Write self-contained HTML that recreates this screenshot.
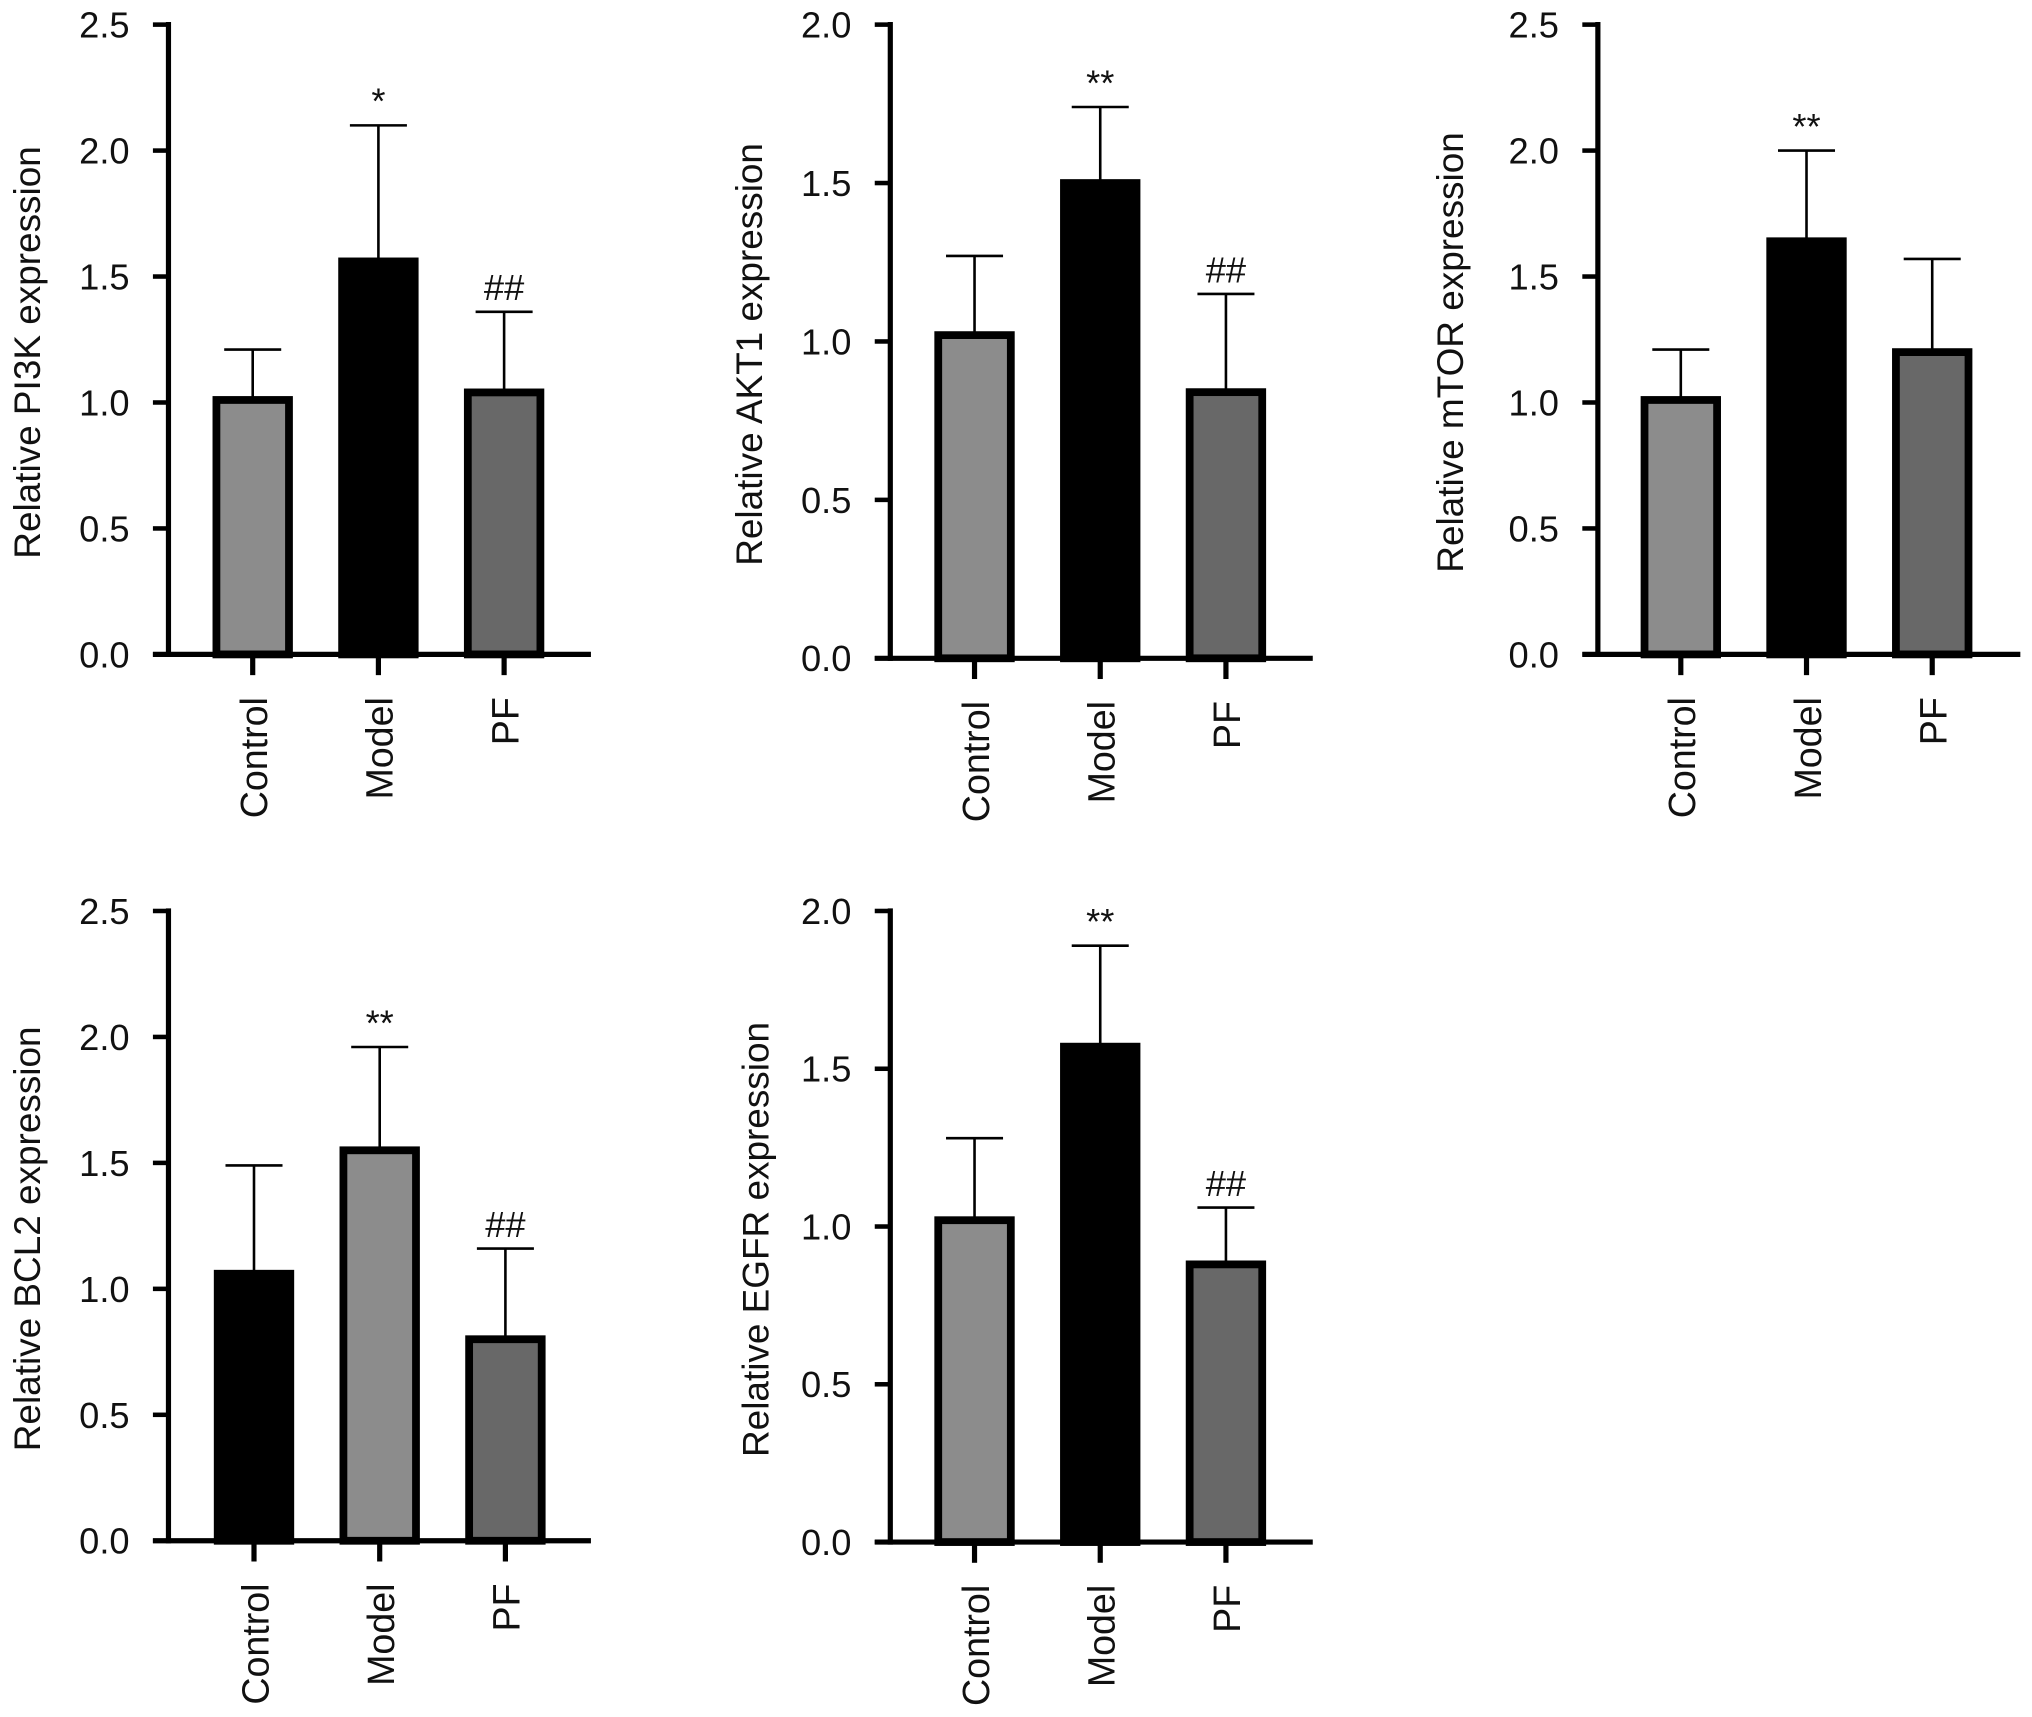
<!DOCTYPE html>
<html><head><meta charset="utf-8"><style>
html,body{margin:0;padding:0;background:#fff;}
svg{display:block;}
text{font-family:"Liberation Sans",sans-serif;fill:#111;}
</style></head><body>
<svg id="fig" width="2032" height="1717" viewBox="0 0 1568 1325" preserveAspectRatio="none" xmlns="http://www.w3.org/2000/svg"></svg>
<script>
const categories = ["Control", "Model", "PF"];
const pi3kValues = [1.01, 1.56, 1.04];
const pi3kErrors = [1.21, 2.10, 1.36];
const pi3kMarks = ["", "*", "##"];
const akt1Values = [1.02, 1.50, 0.84];
const akt1Errors = [1.27, 1.74, 1.15];
const akt1Marks = ["", "**", "##"];
const mtorValues = [1.01, 1.64, 1.20];
const mtorErrors = [1.21, 2.00, 1.57];
const mtorMarks = ["", "**", ""];
const bcl2Values = [1.06, 1.55, 0.80];
const bcl2Errors = [1.49, 1.96, 1.16];
const bcl2Marks = ["", "**", "##"];
const egfrValues = [1.02, 1.57, 0.88];
const egfrErrors = [1.28, 1.89, 1.06];
const egfrMarks = ["", "**", "##"];
const ticks25 = ["0.0", "0.5", "1.0", "1.5", "2.0", "2.5"];
const ticks20 = ["0.0", "0.5", "1.0", "1.5", "2.0"];

const NS = "http://www.w3.org/2000/svg";
const svg = document.getElementById("fig");
function mk(tag, attrs, parent) {
  const e = document.createElementNS(NS, tag);
  for (const k in attrs) e.setAttribute(k, attrs[k]);
  (parent || svg).appendChild(e);
  return e;
}

function panel(cfg) {
  const g = mk("g", {});
  
  
  const ymax = parseFloat(cfg.ticks[cfg.ticks.length - 1]);
  const y = v => cfg.y0 + (cfg.yTop - cfg.y0) * (v / ymax);
  const x = i => cfg.ax + cfg.firstC + i * cfg.step;
  const ya = mk("line", {x1: cfg.ax, y1: cfg.yTop - 2, x2: cfg.ax, y2: cfg.y0 + 2, stroke: "#000", "stroke-width": 4}, g);
  
  
  const xa = mk("line", {x1: cfg.ax - 12, y1: cfg.y0, x2: cfg.ax + 326, y2: cfg.y0, stroke: "#000", "stroke-width": 4}, g);
  
  
  cfg.ticks.forEach(t => {
    const v = parseFloat(t);
    mk("line", {x1: cfg.ax - 12, y1: y(v), x2: cfg.ax, y2: y(v), stroke: "#000", "stroke-width": 3.5}, g);
    const tl = mk("text", {x: cfg.ax - 30, y: y(v) + 10, "text-anchor": "end", "font-size": 28}, g);
    tl.textContent = t;
    
    
  });
  const yt = mk("text", {x: 0, y: 0, "text-anchor": "middle", "font-size": 28.5,
    transform: `translate(${cfg.titleX},${(cfg.yTop + cfg.y0) / 2 + 10}) rotate(-90)`}, g);
  yt.textContent = cfg.title;
  
  
  categories.forEach((c, i) => {
    const cx = x(i);
    const top = y(cfg.values[i]);
    const eTop = y(cfg.errors[i]);
    mk("line", {x1: cx, y1: top, x2: cx, y2: eTop, stroke: "#000", "stroke-width": 2}, g);
    mk("line", {x1: cx - 22, y1: eTop, x2: cx + 22, y2: eTop, stroke: "#000", "stroke-width": 2}, g);
    const b = mk("rect", {x: cx - 28, y: top, width: 56, height: cfg.y0 - top, fill: cfg.fills[i], stroke: "#000", "stroke-width": 6}, g);
    
    
    mk("line", {x1: cx, y1: cfg.y0, x2: cx, y2: cfg.y0 + 16, stroke: "#000", "stroke-width": 4}, g);
    const cl = mk("text", {x: 0, y: 0, "text-anchor": "end", "font-size": 29,
      transform: `translate(${cx + 11},${cfg.y0 + 33}) rotate(-90)`}, g);
    cl.textContent = c;
    
    
    if (cfg.marks[i]) {
      const m = mk("text", {x: cx, y: eTop - 9, "text-anchor": "middle", "font-size": 28}, g);
      m.textContent = cfg.marks[i];
      
      
    }
  });
}

const F1 = ["#8c8c8c", "#000", "#686868"];
const F2 = ["#000", "#8c8c8c", "#686868"];
panel({name: "pi3k-chart", ax: 130, yTop: 19, y0: 505, firstC: 65, step: 97, ticks: ticks25, title: "Relative PI3K expression", titleX: 31, values: pi3kValues, errors: pi3kErrors, marks: pi3kMarks, fills: F1});
panel({name: "akt1-chart", ax: 687, yTop: 19, y0: 508, firstC: 65, step: 97, ticks: ticks20, title: "Relative AKT1 expression", titleX: 588, values: akt1Values, errors: akt1Errors, marks: akt1Marks, fills: F1});
panel({name: "mtor-chart", ax: 1233, yTop: 19, y0: 505, firstC: 64, step: 97, ticks: ticks25, title: "Relative mTOR expression", titleX: 1129, values: mtorValues, errors: mtorErrors, marks: mtorMarks, fills: F1});
panel({name: "bcl2-chart", ax: 130, yTop: 703, y0: 1189, firstC: 66, step: 97, ticks: ticks25, title: "Relative BCL2 expression", titleX: 31, values: bcl2Values, errors: bcl2Errors, marks: bcl2Marks, fills: F2});
panel({name: "egfr-chart", ax: 687, yTop: 703, y0: 1190, firstC: 65, step: 97, ticks: ticks20, title: "Relative EGFR expression", titleX: 593, values: egfrValues, errors: egfrErrors, marks: egfrMarks, fills: F1});
</script>
</body></html>
